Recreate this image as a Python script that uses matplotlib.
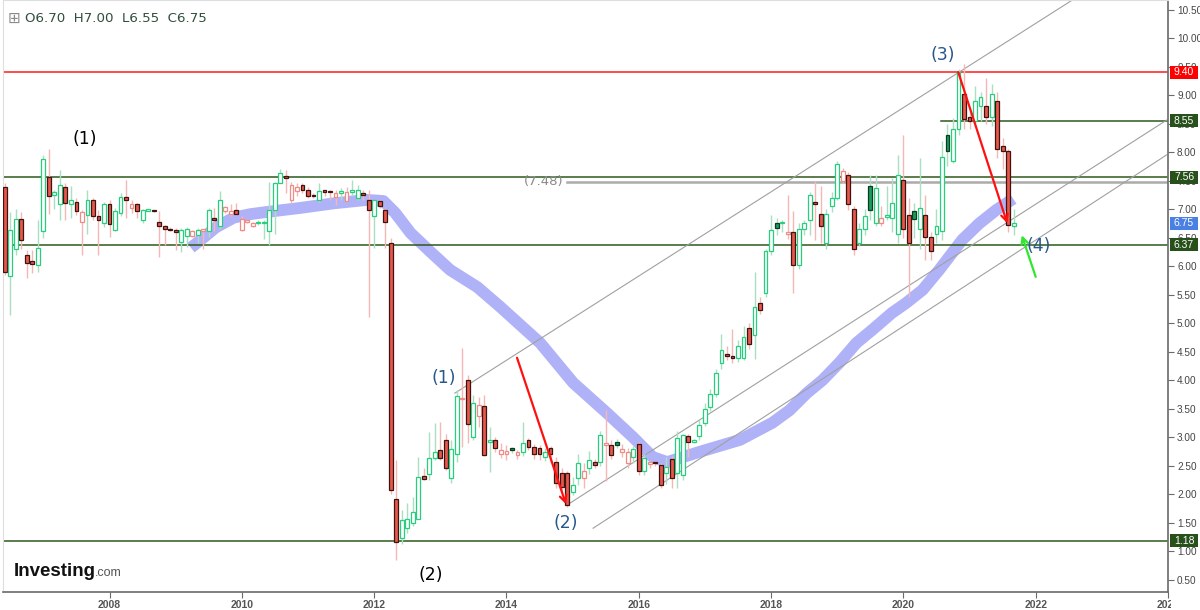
import numpy as np
import matplotlib
matplotlib.use("Agg")
import matplotlib.pyplot as plt
from matplotlib.patches import Rectangle

# --- monthly candles, first one is June 2006 -------------------------------
FIRST_MONTH = 2006 + 5 / 12

opens = [
    7.39, 5.82, 6.30, 6.82, 6.19, 6.09, 6.01, 6.61, 7.56, 7.24,
    7.09, 7.39, 7.09, 7.12, 6.78, 6.89, 7.15, 6.88, 6.75, 7.08,
    6.63, 6.93, 7.21, 7.01, 7.08, 6.81, 6.97, 6.98, 6.77, 6.70,
    6.65, 6.64, 6.43, 6.52, 6.53, 6.54, 6.62, 6.62, 6.85, 6.71,
    6.97, 6.91, 6.98, 6.63, 6.78, 6.71, 6.75, 6.75, 6.61, 6.98,
    7.45, 7.56, 7.15, 7.31, 7.42, 7.33, 7.24, 7.15, 7.31, 7.30,
    7.21, 7.28, 7.14, 7.30, 7.19, 7.26, 7.16, 6.88, 7.14, 6.99,
    6.40, 1.91, 1.22, 1.40, 1.49, 1.57, 2.31, 2.35, 2.63, 2.78,
    2.95, 2.28, 2.71, 3.66, 4.00, 3.00, 3.36, 3.55, 2.92, 2.95,
    2.71, 2.70, 2.80, 2.68, 2.74, 2.94, 2.83, 2.80, 2.65, 2.80,
    2.57, 2.37, 2.37, 2.04, 2.28, 2.28, 2.45, 2.57, 2.57, 2.86,
    2.86, 2.92, 2.74, 2.54, 2.65, 2.87, 2.40, 2.53, 2.56, 2.51,
    2.36, 2.62, 2.36, 2.33, 3.01, 2.92, 3.01, 3.24, 3.53, 3.75,
    4.30, 4.46, 4.40, 4.39, 4.39, 4.91, 4.79, 5.35, 5.52, 6.26,
    6.76, 6.75, 6.56, 6.60, 6.02, 6.65, 6.81, 7.10, 6.91, 6.41,
    7.05, 7.20, 7.50, 7.60, 7.00, 6.41, 6.65, 7.41, 6.76, 6.76,
    6.86, 6.84, 6.56, 7.51, 6.90, 6.96, 6.65, 6.90, 6.51, 6.56,
    6.61, 8.30, 7.85, 8.40, 9.02, 8.61, 8.55, 8.80, 8.81, 8.61,
    8.90, 8.11, 8.01, 6.70,
]
highs = [
    7.45, 6.95, 7.00, 6.95, 6.28, 6.28, 6.80, 7.95, 8.05, 7.33,
    7.68, 7.45, 7.40, 7.20, 6.99, 7.33, 7.19, 6.99, 7.12, 7.16,
    7.01, 7.28, 7.51, 7.16, 7.10, 7.00, 7.00, 6.99, 6.96, 6.72,
    6.69, 6.66, 6.66, 6.68, 6.63, 6.67, 6.64, 7.01, 7.01, 7.31,
    7.06, 7.08, 7.10, 6.87, 6.83, 6.78, 6.81, 6.81, 7.48, 7.48,
    7.71, 7.68, 7.48, 7.45, 7.45, 7.39, 7.28, 7.45, 7.33, 7.33,
    7.33, 7.36, 7.39, 7.51, 7.42, 7.33, 7.33, 7.16, 7.16, 7.01,
    6.49, 2.60, 1.72, 1.84, 1.95, 2.65, 2.46, 3.09, 3.24, 3.26,
    3.06, 2.95, 3.82, 4.56, 4.09, 3.73, 3.71, 3.73, 3.18, 3.00,
    2.89, 2.86, 2.83, 2.78, 3.26, 2.98, 2.88, 2.86, 2.80, 2.85,
    2.65, 2.45, 2.40, 2.30, 2.70, 2.55, 2.75, 2.62, 3.10, 3.47,
    2.95, 2.97, 2.88, 2.80, 2.85, 2.92, 2.70, 2.60, 2.58, 2.55,
    2.65, 2.67, 3.10, 3.05, 3.05, 2.97, 3.30, 3.60, 3.85, 4.20,
    4.80, 4.60, 4.90, 4.70, 4.95, 5.00, 5.90, 5.45, 6.30, 6.90,
    6.85, 6.80, 7.25, 6.97, 6.75, 6.80, 7.30, 7.50, 7.40, 7.00,
    7.30, 7.85, 7.72, 7.65, 7.05, 6.75, 7.00, 7.60, 7.60, 7.05,
    7.40, 7.55, 7.95, 8.30, 7.20, 7.10, 7.90, 7.25, 6.60, 7.00,
    8.20, 8.50, 8.60, 9.45, 9.55, 8.75, 9.15, 9.05, 9.30, 9.20,
    9.05, 8.25, 8.05, 7.00,
]
lows = [
    5.85, 5.14, 6.20, 6.30, 5.79, 5.87, 5.90, 6.50, 6.92, 7.00,
    6.81, 6.81, 6.85, 6.90, 6.19, 6.57, 6.81, 6.19, 6.69, 6.51,
    6.61, 6.87, 6.84, 6.93, 6.84, 6.75, 6.96, 6.95, 6.15, 6.37,
    6.61, 6.28, 6.25, 6.34, 6.51, 6.40, 6.30, 6.51, 6.61, 6.65,
    6.93, 6.87, 6.90, 6.61, 6.75, 6.69, 6.72, 6.48, 6.37, 6.57,
    7.45, 7.28, 7.10, 7.22, 7.28, 7.19, 7.19, 7.12, 7.22, 7.16,
    7.07, 7.16, 7.12, 7.22, 7.16, 7.16, 5.11, 6.31, 7.01, 6.31,
    2.00, 0.84, 1.13, 1.31, 1.44, 1.57, 2.25, 2.25, 2.60, 2.60,
    2.42, 2.19, 2.57, 2.83, 2.89, 2.95, 3.18, 2.66, 2.39, 2.74,
    2.63, 2.60, 2.72, 2.62, 2.66, 2.78, 2.62, 2.60, 2.58, 2.57,
    2.10, 2.05, 1.78, 1.98, 2.15, 2.10, 2.35, 2.45, 2.50, 2.22,
    2.62, 2.80, 2.65, 2.45, 2.55, 2.33, 2.33, 2.45, 2.50, 2.10,
    2.18, 2.10, 2.10, 2.25, 2.65, 2.90, 2.95, 3.20, 3.45, 3.70,
    4.20, 4.35, 4.30, 4.32, 4.35, 4.55, 4.37, 5.15, 5.45, 6.20,
    6.55, 6.60, 6.47, 5.52, 5.95, 6.55, 6.55, 6.45, 6.40, 6.30,
    6.95, 7.15, 7.45, 6.98, 6.20, 6.35, 6.55, 6.80, 6.70, 6.70,
    6.80, 6.60, 6.40, 6.50, 5.45, 6.50, 6.30, 6.10, 6.10, 6.40,
    6.45, 7.75, 7.80, 8.30, 8.40, 8.40, 8.45, 8.55, 8.50, 8.45,
    7.90, 7.70, 6.60, 6.55,
]
closes = [
    5.90, 6.63, 6.82, 6.46, 6.06, 6.04, 6.31, 7.87, 7.23, 7.29,
    7.43, 7.10, 7.16, 6.97, 6.94, 7.16, 6.88, 6.80, 7.08, 6.73,
    6.96, 7.21, 7.15, 7.08, 6.96, 6.98, 6.99, 6.96, 6.70, 6.65,
    6.63, 6.59, 6.63, 6.65, 6.61, 6.64, 6.63, 6.98, 6.81, 7.15,
    7.03, 6.97, 6.92, 6.83, 6.79, 6.75, 6.76, 6.77, 6.98, 7.45,
    7.64, 7.55, 7.42, 7.39, 7.33, 7.23, 7.22, 7.32, 7.30, 7.29,
    7.28, 7.32, 7.30, 7.31, 7.33, 7.25, 6.98, 7.15, 7.05, 6.77,
    2.07, 1.16, 1.54, 1.57, 1.69, 2.29, 2.26, 2.63, 2.74, 2.63,
    2.45, 2.79, 3.72, 3.68, 3.23, 3.59, 3.56, 2.69, 2.94, 2.80,
    2.78, 2.76, 2.77, 2.74, 2.90, 2.83, 2.71, 2.70, 2.74, 2.70,
    2.19, 2.13, 1.81, 2.16, 2.54, 2.40, 2.60, 2.51, 3.04, 2.89,
    2.69, 2.86, 2.79, 2.74, 2.79, 2.40, 2.63, 2.55, 2.54, 2.16,
    2.48, 2.28, 2.98, 3.03, 2.91, 2.93, 3.21, 3.50, 3.76, 4.12,
    4.52, 4.42, 4.39, 4.60, 4.76, 4.63, 5.28, 5.23, 6.26, 6.63,
    6.66, 6.77, 6.60, 6.02, 6.65, 6.76, 7.25, 7.09, 6.71, 6.91,
    7.20, 7.79, 7.66, 7.09, 6.30, 6.65, 6.87, 6.98, 7.36, 6.84,
    6.90, 7.10, 7.60, 6.65, 6.40, 6.82, 7.02, 6.51, 6.26, 6.71,
    7.91, 8.01, 8.40, 9.40, 8.58, 8.55, 8.90, 8.96, 8.61, 9.02,
    8.06, 8.01, 6.72, 6.75,
]

# moving-average band as drawn on the chart (year, price)
ma_years = [2009.23, 2009.38, 2009.61, 2009.88, 2010.13, 2010.39, 2010.89,
            2011.39, 2011.90, 2012.14, 2012.32, 2012.55, 2012.85, 2013.15,
            2013.56, 2013.91, 2014.51, 2015.01, 2015.52, 2015.91, 2016.21,
            2016.43, 2016.92, 2017.53, 2018.02, 2018.28, 2018.54, 2018.78,
            2019.03, 2019.29, 2019.53, 2019.83, 2020.04, 2020.29, 2020.54,
            2020.89, 2021.15, 2021.40, 2021.66]
ma_values = [6.32, 6.46, 6.68, 6.85, 6.91, 6.95, 7.02, 7.10, 7.16, 7.14,
             6.93, 6.58, 6.25, 5.93, 5.63, 5.28, 4.65, 3.95, 3.42, 3.00,
             2.65, 2.56, 2.74, 2.95, 3.25, 3.47, 3.77, 4.00, 4.30, 4.65,
             4.88, 5.18, 5.35, 5.58, 5.93, 6.46, 6.75, 6.98, 7.18]

# horizontal levels: (price, colour, start year or None for full width)
levels = [(9.40, "#ff1a1a", None), (8.55, "#2e5a1c", 2020.57),
          (7.56, "#2e5a1c", None), (6.37, "#2e5a1c", None),
          (1.18, "#2e5a1c", None)]
price_tags = [(9.40, "#ff0000"), (8.55, "#27501a"), (7.56, "#27501a"),
              (6.75, "#4a7fe6"), (6.37, "#27501a"), (1.18, "#27501a")]

# channel lines: (year0, price0, year1, price1)
channels = [(2013.22, 3.77, 2022.60, 10.70),
            (2014.96, 1.84, 2023.98, 8.56),
            (2015.31, 1.40, 2023.98, 7.95)]

wave_black = [("(1)", 2007.62, 8.23), ("(2)", 2012.86, 0.58)]
wave_blue = [("(1)", 2013.05, 4.04), ("(2)", 2014.90, 1.49),
             ("(3)", 2020.59, 9.70), ("(4)", 2022.05, 6.35)]

year_ticks = list(range(2008, 2025, 2))
price_ticks = np.arange(0.5, 10.51, 0.5)

# --- derived ---------------------------------------------------------------
o = np.array(opens); h = np.array(highs); l = np.array(lows); c = np.array(closes)
t = FIRST_MONTH + np.arange(len(o)) / 12
prev = np.concatenate([[o[0]], c[:-1]])
up_day = c >= prev          # colour: vs previous close
hollow = c >= o             # hollow body: close above open

GREEN_EDGE, RED_EDGE = "#25cf7d", "#f08a86"
RED_FILL, RED_DARK = "#e8574c", "#3d1410"
GREEN_FILL, GREEN_DARK = "#179e5b", "#0c3b22"
WICK_G, WICK_R = "#abdfc1", "#f5b6b6"

face, edge, wick = [], [], []
for u, hol in zip(up_day, hollow):
    wick.append(WICK_G if u else WICK_R)
    if hol:
        face.append("white")
        edge.append(GREEN_EDGE if u else RED_EDGE)
    else:
        face.append(GREEN_FILL if u else RED_FILL)
        edge.append(GREEN_DARK if u else RED_DARK)

W, H = 1200, 610
fig = plt.figure(figsize=(W / 100, H / 100), dpi=100)
ax = fig.add_axes([3 / W, 18 / H, 1165 / W, 592 / H])
ax.set_xlim(2006.39, 2023.98)
ax.set_ylim(0.281, 10.667)

ax.plot(ma_years, ma_values, color="#b0b2f8", lw=8.5, solid_capstyle="butt",
        solid_joinstyle="round", zorder=1.5)

for y, col, x0 in levels:
    xs = [ax.get_xlim()[0] if x0 is None else x0, ax.get_xlim()[1]]
    ax.plot(xs, [y, y], color=col, lw=1.1, zorder=2)
ax.plot([2014.91, 2023.98], [7.48, 7.48], color="#ababab", lw=1.8, zorder=2)
ax.text(2014.57, 7.49, "(7.48)", color="#8a8a8a", fontsize=9.5,
        ha="center", va="center", family="DejaVu Sans", zorder=4)

for x0, y0, x1, y1 in channels:
    ax.plot([x0, x1], [y0, y1], color="#a0a0a0", lw=0.8, zorder=2)

bw = 0.7 / 12
ax.vlines(t, l, h, colors=wick, lw=1.0, zorder=2.6)
body_lo = np.minimum(o, c)
body_h = np.maximum(np.abs(c - o), 0.025)
ax.bar(t, body_h, bottom=body_lo, width=bw, color=face, edgecolor=edge,
       linewidth=0.9, zorder=3)

arrow_red = dict(arrowstyle="->", color="#ff1010", lw=1.6, shrinkA=0,
                 shrinkB=0, mutation_scale=12)
ax.annotate("", xy=(2014.90, 1.82), xytext=(2014.16, 4.39), arrowprops=arrow_red, zorder=5)
ax.annotate("", xy=(2021.57, 6.75), xytext=(2020.83, 9.40), arrowprops=arrow_red, zorder=5)
ax.annotate("", xy=(2021.79, 6.54), xytext=(2022.00, 5.81),
            arrowprops=dict(arrowstyle="->", color="#2ee82e", lw=1.6,
                            shrinkA=0, shrinkB=0, mutation_scale=12), zorder=5)

for s, x, y in wave_black:
    ax.text(x, y, s, color="black", fontsize=12.5, ha="center", va="center",
            family="DejaVu Sans", zorder=5)
for s, x, y in wave_blue:
    ax.text(x, y, s, color="#28588a", fontsize=12.5, ha="center", va="center",
            family="DejaVu Sans", zorder=5)

# axes styling
ax.yaxis.tick_right()
ax.set_yticks(price_ticks)
ax.set_yticklabels([f"{v:.2f}" for v in price_ticks])
ax.set_xticks(year_ticks)
ax.set_xticklabels([str(y) for y in year_ticks])
ax.tick_params(axis="y", labelsize=7.2, colors="#6a6a6a", labelcolor="#444444",
               length=4, width=0.8, pad=2.5)
ax.tick_params(axis="x", labelsize=7.5, colors="#6a6a6a", labelcolor="#555555",
               length=4, width=0.8, pad=2)
for lab in ax.get_xticklabels():
    lab.set_fontweight("bold")
    lab.set_family("Liberation Sans")
for lab in ax.get_yticklabels():
    lab.set_family("Liberation Sans")
for side in ("right", "bottom"):
    ax.spines[side].set_color("#6a6a6a")
    ax.spines[side].set_linewidth(1.2)
for side in ("top", "left"):
    ax.spines[side].set_color("#dedede")

# price tags on the price scale, covering the tick labels behind them
for y, col in price_tags:
    ypx = ax.transData.transform((2010, y))[1]
    fig.add_artist(Rectangle((1170 / W, (ypx - 6.5) / H), 28 / W, 13 / H,
                             transform=fig.transFigure, fc=col, ec="none", zorder=6))
    fig.text(1174 / W, ypx / H, f"{y:.2f}", color="white", fontsize=7.5,
             family="Liberation Sans", ha="left", va="center", zorder=7)

# header and logo
fig.text(8 / W, 1 - 18 / H, "\u229e", color="#8a8a8a", fontsize=11,
         ha="left", va="center", family="DejaVu Sans")
fig.text(25 / W, 1 - 18 / H, "O6.70  H7.00  L6.55  C6.75", color="#2f4f3c",
         fontsize=9.6, ha="left", va="center", family="DejaVu Sans")
fig.text(14 / W, 1 - 571 / H, "Investing", color="#111111", fontsize=13.5,
         fontweight="heavy", ha="left", va="center", family="Liberation Sans")
fig.text(95 / W, 1 - 573 / H, ".com", color="#555555", fontsize=9,
         ha="left", va="center", family="Liberation Sans")

# price panel hides the last year label partly
fig.add_artist(Rectangle((1171 / W, 0), 29 / W, 17 / H,
                         transform=fig.transFigure, fc="white", ec="none", zorder=5))

fig.savefig("out.png", dpi=100)
